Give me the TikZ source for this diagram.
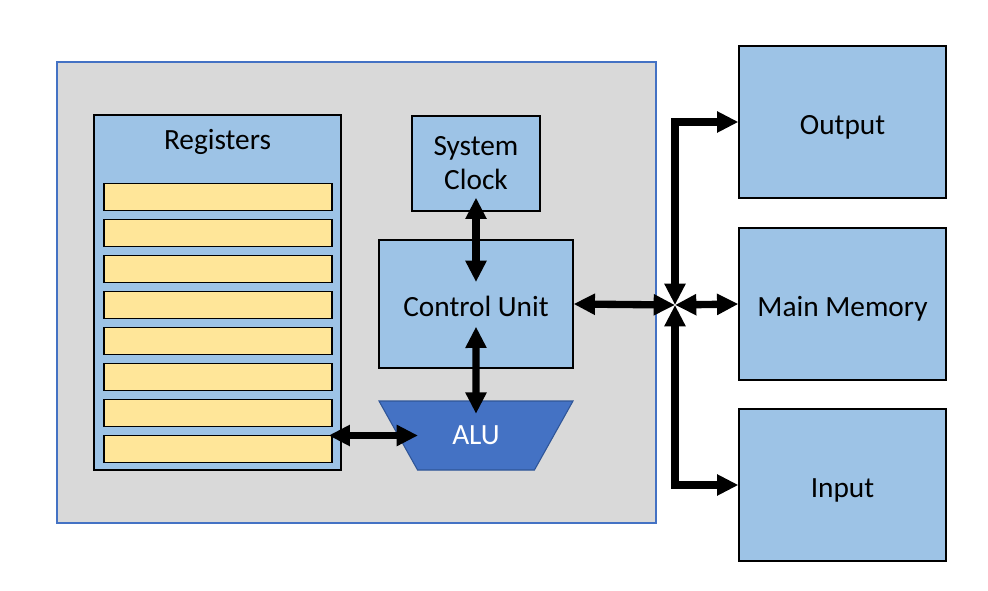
\documentclass[tikz,border=0pt]{standalone}
\usepackage{fontspec}
\setmainfont{Carlito}
\usetikzlibrary{arrows.meta,shapes.geometric,positioning}

\definecolor{cpugray}{RGB}{217,217,217}
\definecolor{cpuedge}{RGB}{68,114,196}
\definecolor{unitblue}{RGB}{157,195,230}
\definecolor{regyellow}{RGB}{255,230,153}
\definecolor{alublue}{RGB}{68,114,196}
\definecolor{aluedge}{RGB}{47,85,151}

\begin{document}
\begin{tikzpicture}[
    x=0.75pt, y=-0.75pt,
    unit/.style={rectangle, draw=black, line width=0.9pt, fill=unitblue, align=center, inner sep=0pt, font=\fontsize{22}{25.5}\selectfont},
    oneline/.style={text height=18.5pt, text depth=0pt},
    device/.style={unit, oneline, minimum width=155.25pt, minimum height=114pt},
    register/.style={rectangle, draw=black, line width=0.9pt, fill=regyellow, minimum width=171pt, minimum height=20.25pt, inner sep=0pt},
    bus/.style={{Triangle[length=16pt,width=15pt]}-{Triangle[length=16pt,width=15pt]}, line width=5.5pt}
]
\useasboundingbox (0,0) rectangle (988,591);

% processor
\node[rectangle, draw=cpuedge, line width=1.1pt, fill=cpugray, minimum width=449.25pt, minimum height=345.75pt] (cpu) at (356.5,292.5) {};

\node[unit, minimum width=185.25pt, minimum height=266.25pt] (regs) at (217.5,292.5) {};
\node[font=\fontsize{22}{25.5}\selectfont] (reglabel) at (217.5,142) {Registers};
\foreach \i in {0,...,7}
    \node[register] (reg\i) at (218,197+36*\i) {};

\node[unit, minimum width=96pt, minimum height=71.25pt] (clock) at (476,163.5) {System\\Clock};
\node[unit, oneline, minimum width=145.5pt, minimum height=96pt] (cu) at (476,304) {Control Unit};

\node[trapezium, trapezium stretches body, shape border rotate=180, trapezium angle=60.8,
    minimum width=145.5pt, text height=14pt, text depth=0pt, inner xsep=0pt, inner ysep=18.875pt,
    fill=alublue, draw=aluedge, line width=0.8pt, text=white,
    font=\fontsize{22}{25.5}\selectfont] (alu) at (476,435.5) {ALU};

% devices
\node[device] (out) at (842.5,122) {Output};
\node[device] (mem) at (842.5,304) {Main Memory};
\node[device] (in) at (842.5,485) {Input};

\coordinate (jn) at (675,305);

\draw[bus] ([yshift=10.5pt]clock.south) -- ([yshift=-32pt]cu.north);
\draw[bus] ([yshift=-17pt]cu.center) -- ([yshift=-10pt]alu.north);
\draw[bus, shorten <=-3pt] (reg7.east |- alu.center) -- ([xshift=-43.5pt]alu.center);
\draw[bus] (cu.east) -- (jn);
\draw[bus] (jn) |- (out.west);
\draw[bus] (jn) |- (in.west);
\draw[bus] (jn) -- (mem.west);

\end{tikzpicture}
\end{document}
